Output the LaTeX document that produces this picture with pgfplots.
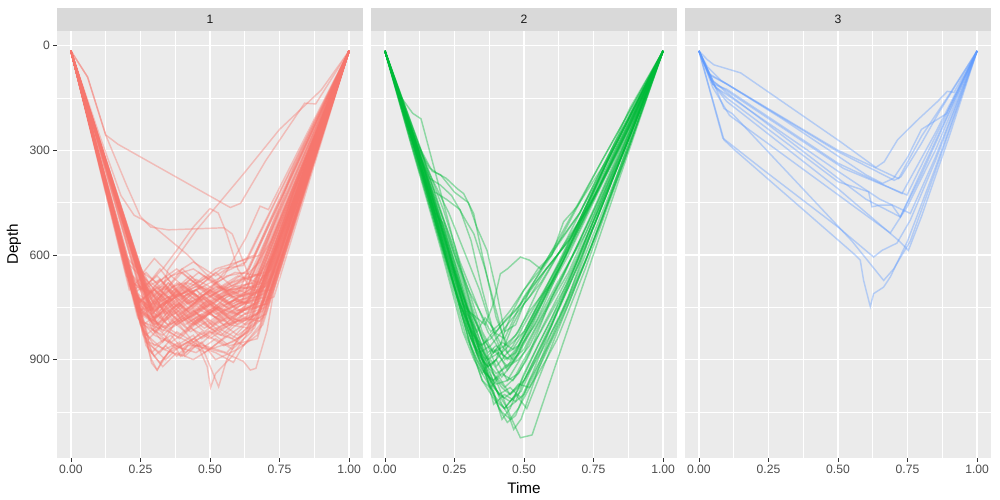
\documentclass[border=0pt]{standalone}
\usepackage{fontspec}
\setmainfont{Liberation Sans}
\usepackage{pgfplots}
\pgfplotsset{compat=1.18}
\definecolor{gg92}{HTML}{EBEBEB}
\definecolor{gg85}{HTML}{D9D9D9}
\definecolor{gg30}{HTML}{4D4D4D}
\definecolor{gg20}{HTML}{333333}
\definecolor{gg10}{HTML}{1A1A1A}
\definecolor{cR}{HTML}{F8766D}
\definecolor{cG}{HTML}{00BA38}
\definecolor{cB}{HTML}{619CFF}
\pgfplotsset{
 panel/.style={
  width=306bp, height=427bp, scale only axis,
  anchor=south west,
  xmin=-0.05, xmax=1.05, ymin=-42, ymax=1182, y dir=reverse,
  axis background/.style={fill=gg92},
  separate axis lines, axis line style={draw=none},
  xtick={0,0.25,0.5,0.75,1}, xticklabels={0.00,0.25,0.50,0.75,1.00},
  minor xtick={0.125,0.375,0.625,0.875},
  ytick={0,300,600,900}, minor ytick={150,450,750,1050},
  grid=both,
  major grid style={white, line width=1.49bp},
  minor grid style={white, line width=0.74bp},
  tick align=outside, major tick length=3.8bp, minor tick length=0pt,
  tick style={gg20, line width=0.74bp},
  xtick pos=left, ytick pos=left,
  tick label style={font=\fontsize{12.2}{14}\selectfont, text=gg30, inner sep=0pt},
  xticklabel style={yshift=-3bp},
  yticklabel style={xshift=-3bp},
 },
 rl/.style={cR, draw opacity=0.4, line width=1.45bp, no markers},
 gl/.style={cG, draw opacity=0.4, line width=1.45bp, no markers},
 bl/.style={cB, draw opacity=0.4, line width=1.45bp, no markers},
}
\newcommand\R[1]{\addplot[rl] coordinates {(0,15)#1(1,15)};}
\newcommand\G[1]{\addplot[gl] coordinates {(0,15)#1(1,15)};}
\newcommand\B[1]{\addplot[bl] coordinates {(0,15)#1(1,15)};}
\begin{document}
\begin{tikzpicture}
\path[use as bounding box] (0,0) rectangle (1000bp,500bp);
\fill[white] (0,0) rectangle (1000bp,500bp);
% ---------------- panel 1 ----------------
\begin{axis}[panel, at={(57bp,42bp)}, yticklabels={0,300,600,900}]
\R{(0.22,700)(0.28,760)(0.35,720)(0.42,780)(0.5,740)(0.58,790)(0.65,720)}
\R{(0.24,650)(0.29,700)(0.34,660)(0.4,720)(0.48,690)(0.56,740)(0.66,700)}
\R{(0.28,780)(0.31,820)(0.36,760)(0.44,800)(0.52,750)(0.6,800)(0.68,760)}
\R{(0.24,740)(0.31,690)(0.38,750)(0.45,700)(0.53,770)(0.6,720)(0.7,690)}
\R{(0.24,680)(0.28,740)(0.34,790)(0.41,730)(0.49,800)(0.57,760)(0.63,780)}
\R{(0.27,850)(0.32,880)(0.38,820)(0.46,860)(0.53,810)(0.6,840)(0.66,800)}
\R{(0.28,720)(0.32,760)(0.37,700)(0.43,660)(0.5,720)(0.58,680)(0.69,650)}
\R{(0.26,800)(0.33,830)(0.4,780)(0.47,840)(0.55,800)(0.62,760)(0.7,740)}
\R{(0.24,620)(0.28,680)(0.32,640)(0.38,700)(0.46,650)(0.54,700)(0.64,640)}
\R{(0.28,870)(0.32,910)(0.37,860)(0.45,880)(0.52,840)(0.58,870)(0.65,820)}
\R{(0.27,690)(0.31,730)(0.36,800)(0.44,750)(0.51,700)(0.59,750)(0.67,730)}
\R{(0.25,760)(0.3,700)(0.37,760)(0.44,720)(0.52,780)(0.6,740)(0.71,720)}
\R{(0.26,660)(0.3,720)(0.35,680)(0.42,740)(0.49,710)(0.55,650)(0.63,620)}
\R{(0.24,750)(0.32,800)(0.39,840)(0.46,790)(0.54,830)(0.61,780)(0.68,790)}
\R{(0.3,790)(0.34,740)(0.38,700)(0.45,760)(0.53,720)(0.59,690)(0.66,680)}
\R{(0.21,700)(0.27,650)(0.33,700)(0.41,680)(0.48,740)(0.56,700)(0.65,690)}
\R{(0.29,880)(0.34,840)(0.4,870)(0.47,820)(0.55,860)(0.62,830)(0.69,780)}
\R{(0.29,730)(0.33,780)(0.38,740)(0.45,790)(0.51,760)(0.58,720)(0.72,700)}
\R{(0.22,710)(0.29,680)(0.36,730)(0.43,690)(0.5,660)(0.57,710)(0.64,680)}
\R{(0.3,820)(0.35,780)(0.41,820)(0.48,770)(0.55,730)(0.63,770)(0.7,750)}
\R{(0.2,640)(0.26,700)(0.32,750)(0.39,710)(0.47,760)(0.54,720)(0.62,700)}
\R{(0.28,760)(0.32,810)(0.38,790)(0.44,850)(0.5,820)(0.57,860)(0.67,840)}
\R{(0.25,770)(0.32,720)(0.39,680)(0.46,720)(0.53,690)(0.61,720)(0.69,700)}
\R{(0.27,700)(0.31,740)(0.35,770)(0.42,710)(0.5,770)(0.58,730)(0.66,740)}
\R{(0.21,690)(0.28,760)(0.35,730)(0.4,790)(0.47,760)(0.55,790)(0.62,760)}
\R{(0.29,810)(0.33,850)(0.37,800)(0.44,760)(0.51,800)(0.59,760)(0.71,740)}
\R{(0.22,680)(0.3,710)(0.36,660)(0.44,640)(0.52,680)(0.59,650)(0.7,660)}
\R{(0.28,730)(0.32,770)(0.37,720)(0.43,770)(0.49,730)(0.56,770)(0.64,730)}
\R{(0.28,840)(0.33,800)(0.39,830)(0.46,780)(0.52,820)(0.6,790)(0.67,770)}
\R{(0.25,670)(0.29,720)(0.34,690)(0.41,760)(0.48,720)(0.55,760)(0.61,740)}
\R{(0.25,740)(0.29,790)(0.36,740)(0.43,800)(0.51,750)(0.57,800)(0.65,770)}
\R{(0.28,710)(0.32,670)(0.37,720)(0.45,670)(0.52,700)(0.6,660)(0.68,680)}
\R{(0.26,770)(0.34,810)(0.41,770)(0.48,810)(0.56,770)(0.63,800)(0.7,770)}
\R{(0.21,650)(0.26,690)(0.32,730)(0.39,690)(0.45,730)(0.52,690)(0.6,710)}
\R{(0.31,800)(0.35,760)(0.39,790)(0.47,750)(0.54,790)(0.62,750)(0.73,720)}
\R{(0.22,700)(0.29,740)(0.35,700)(0.42,750)(0.5,790)(0.57,750)(0.66,720)}
\R{(0.29,770)(0.33,740)(0.37,780)(0.44,740)(0.5,700)(0.58,740)(0.67,710)}
\R{(0.25,750)(0.3,800)(0.36,850)(0.43,810)(0.5,840)(0.57,800)(0.64,810)}
\R{(0.26,660)(0.3,700)(0.34,740)(0.42,700)(0.49,750)(0.57,700)(0.69,690)}
\R{(0.23,720)(0.29,770)(0.36,720)(0.42,680)(0.49,700)(0.56,660)(0.63,650)}
\R{(0.27,860)(0.31,900)(0.33,920)(0.38,880)(0.44,900)(0.5,870)(0.58,850)(0.66,810)}
\R{(0.25,800)(0.3,860)(0.36,830)(0.41,880)(0.47,850)(0.52,900)(0.6,870)(0.67,830)}
\R{(0.26,820)(0.33,870)(0.4,890)(0.45,850)(0.49,920)(0.502,980)(0.52,940)(0.58,890)(0.63,830)(0.7,720)}
\R{(0.24,780)(0.3,830)(0.38,860)(0.44,830)(0.48,880)(0.531,978)(0.56,900)(0.6,840)(0.68,760)}
\R{(0.25,790)(0.35,820)(0.45,860)(0.55,880)(0.62,905)(0.645,930)(0.665,925)(0.705,817)(0.73,700)}
\R{(0.27,840)(0.29,910)(0.31,930)(0.35,880)(0.4,860)(0.46,830)(0.55,800)(0.64,780)}
\R{(0.26,830)(0.3,870)(0.34,900)(0.38,870)(0.394,890)(0.42,860)(0.48,860)(0.56,880)(0.63,820)}
\R{(0.28,850)(0.34,870)(0.39,850)(0.41,890)(0.45,860)(0.52,880)(0.584,908)(0.62,860)(0.68,800)}
\R{(0.2,620)(0.25,660)(0.3,610)(0.36,660)(0.44,620)(0.52,660)(0.6,620)(0.68,600)}
\R{(0.19,600)(0.24,640)(0.31,680)(0.38,640)(0.46,690)(0.54,640)(0.62,630)}
\R{(0.25,760)(0.35,720)(0.45,700)(0.55,660)(0.63,550)(0.68,460)(0.71,470)(0.85,250)}
\R{(0.27,720)(0.31,780)(0.35,740)(0.4,700)(0.46,750)(0.52,710)(0.6,680)(0.68,620)(0.78,400)}
\R{(0.25,760)(0.31,720)(0.37,770)(0.43,730)(0.5,760)(0.56,720)(0.63,700)(0.7,560)(0.8,350)}
\R{(0.26,680)(0.3,720)(0.34,770)(0.39,740)(0.46,790)(0.53,750)(0.59,770)(0.66,740)}
\R{(0.24,750)(0.3,800)(0.36,770)(0.42,810)(0.48,780)(0.54,740)(0.6,770)(0.68,730)}
\R{(0.3,780)(0.34,740)(0.38,700)(0.44,740)(0.5,700)(0.57,740)(0.64,700)(0.72,640)}
\R{(0.23,710)(0.29,760)(0.35,800)(0.41,760)(0.47,720)(0.53,760)(0.6,720)(0.66,690)}
\R{(0.25,650)(0.29,690)(0.33,720)(0.38,680)(0.45,720)(0.52,680)(0.58,720)(0.65,700)(0.75,500)}
\R{(0.27,830)(0.33,790)(0.39,760)(0.45,800)(0.51,760)(0.57,800)(0.64,760)(0.7,740)}
\R{(0.22,700)(0.27,740)(0.32,700)(0.38,740)(0.44,770)(0.5,730)(0.56,770)(0.62,740)(0.69,720)}
\R{(0.29,770)(0.33,820)(0.37,780)(0.43,820)(0.49,790)(0.55,830)(0.61,790)(0.68,780)}
\R{(0.24,740)(0.3,700)(0.36,660)(0.42,700)(0.48,660)(0.55,700)(0.62,670)(0.7,650)(0.8,420)}
\R{(0.26,690)(0.3,740)(0.34,700)(0.4,650)(0.46,690)(0.52,650)(0.58,690)(0.66,660)}
\R{(0.26,800)(0.31,770)(0.36,810)(0.42,780)(0.48,820)(0.53,790)(0.6,830)(0.67,790)}
\R{(0.23,730)(0.3,780)(0.37,750)(0.44,710)(0.5,750)(0.56,710)(0.63,740)(0.71,700)}
\R{(0.2,660)(0.25,700)(0.31,660)(0.37,710)(0.43,670)(0.5,710)(0.57,680)(0.64,660)(0.72,560)}
\R{(0.28,750)(0.32,710)(0.36,750)(0.41,800)(0.47,770)(0.54,810)(0.6,780)(0.65,760)}
\R{(0.22,710)(0.3,760)(0.38,720)(0.45,690)(0.52,730)(0.6,700)(0.67,720)(0.74,640)(0.82,400)}
\R{(0.26,790)(0.32,830)(0.38,870)(0.44,840)(0.5,870)(0.56,830)(0.62,860)(0.69,800)}
\R{(0.29,760)(0.32,720)(0.36,680)(0.4,640)(0.46,680)(0.52,640)(0.6,620)(0.66,600)(0.76,420)}
\R{(0.26,820)(0.29,900)(0.31,930)(0.33,900)(0.36,870)(0.42,850)(0.48,880)(0.55,840)(0.62,800)(0.68,760)}
\R{(0.24,770)(0.28,860)(0.3,890)(0.34,860)(0.38,890)(0.42,860)(0.5,820)(0.58,840)(0.65,780)}
\R{(0.23,740)(0.3,700)(0.36,740)(0.42,700)(0.48,730)(0.55,690)(0.62,720)(0.7,690)}
\R{(0.26,700)(0.3,760)(0.34,730)(0.4,770)(0.46,730)(0.52,770)(0.6,740)(0.68,700)}
\R{(0.25,780)(0.3,740)(0.36,700)(0.42,740)(0.49,710)(0.56,750)(0.63,720)(0.7,700)}
\R{(0.27,690)(0.31,720)(0.35,680)(0.4,720)(0.47,690)(0.54,730)(0.61,700)(0.69,680)}
\R{(0.24,760)(0.3,780)(0.37,740)(0.43,780)(0.5,740)(0.57,780)(0.64,750)(0.71,730)}
\R{(0.2,650)(0.26,700)(0.32,670)(0.38,720)(0.45,690)(0.52,720)(0.59,690)(0.66,700)}
\R{(0.3,800)(0.34,760)(0.38,800)(0.44,770)(0.5,810)(0.56,780)(0.62,790)(0.69,760)}
\R{(0.23,720)(0.29,750)(0.35,720)(0.41,750)(0.47,780)(0.53,750)(0.59,730)(0.67,720)}
\R{(0.21,670)(0.27,710)(0.33,690)(0.39,730)(0.45,700)(0.51,740)(0.58,700)(0.65,680)(0.73,600)}
\R{(0.25,770)(0.31,800)(0.37,760)(0.43,790)(0.49,760)(0.55,800)(0.61,760)(0.68,750)}
\R{(0.27,700)(0.31,730)(0.34,760)(0.4,720)(0.46,760)(0.53,720)(0.6,760)(0.67,740)}
\R{(0.24,730)(0.29,760)(0.35,730)(0.41,690)(0.47,730)(0.54,700)(0.61,740)(0.7,710)}
\R{(0.06,90)(0.125,256)(0.17,283)(0.573,464)(0.61,452)(0.7,330)(0.84,165)(0.88,167)}
\R{(0.06,90)(0.125,256)(0.2,400)(0.25,490)(0.287,520)(0.35,528)(0.45,525)(0.55,522)(0.58,540)(0.62,620)(0.66,700)(0.7,650)(0.8,420)}
\R{(0.1,250)(0.18,430)(0.227,486)(0.26,500)(0.3,520)(0.36,560)(0.42,600)(0.48,650)(0.55,700)(0.62,740)(0.7,680)(0.8,420)}
\R{(0.22,700)(0.28,680)(0.33,640)(0.38,587)(0.44,520)(0.5,467)(0.53,480)(0.56,539)(0.6,640)(0.65,700)(0.72,640)}
\R{(0.24,760)(0.3,790)(0.348,644)(0.45,530)(0.622,366)(0.75,240)(0.9,127)}
\end{axis}
% ---------------- panel 2 ----------------
\begin{axis}[panel, at={(371bp,42bp)}, yticklabels={}, ytick style={draw=none}]
\G{(0.11,300)(0.23,600)(0.33,880)(0.39,1000)(0.43,1040)(0.46,1010)(0.5,960)(0.6,800)(0.7,620)(0.85,320)}
\G{(0.1,290)(0.2,560)(0.3,820)(0.35,930)(0.39,960)(0.43,920)(0.47,900)(0.55,780)(0.65,600)(0.8,330)}
\G{(0.12,300)(0.25,620)(0.35,900)(0.41,1040)(0.44,1080)(0.47,1060)(0.52,960)(0.6,840)(0.72,620)(0.86,330)}
\G{(0.13,320)(0.26,640)(0.37,920)(0.42,1028)(0.445,1060)(0.463,1100)(0.49,1070)(0.55,930)(0.7,640)(0.85,340)}
\G{(0.13,300)(0.27,640)(0.39,940)(0.45,1060)(0.487,1124)(0.529,1116)(0.619,903)}
\G{(0.11,280)(0.23,580)(0.32,820)(0.37,900)(0.4,870)(0.44,930)(0.48,880)(0.55,760)(0.66,600)(0.82,330)}
\G{(0.09,260)(0.18,500)(0.27,740)(0.32,830)(0.35,860)(0.39,820)(0.43,840)(0.5,720)(0.6,600)(0.78,330)}
\G{(0.11,280)(0.16,350)(0.188,366)(0.22,380)(0.26,410)(0.283,424)(0.319,481)(0.35,600)(0.4,780)(0.44,860)(0.48,820)(0.55,700)(0.65,560)(0.8,320)}
\G{(0.11,270)(0.17,360)(0.2,370)(0.25,420)(0.3,450)(0.33,520)(0.367,587)(0.4,700)(0.43,820)(0.47,800)(0.52,700)(0.62,560)(0.78,330)}
\G{(0.11,290)(0.22,590)(0.3,760)(0.36,800)(0.39,740)(0.415,654)(0.44,640)(0.487,606)(0.52,615)(0.56,640)(0.6,590)(0.7,480)(0.8,320)}
\G{(0.1,280)(0.21,580)(0.3,840)(0.35,960)(0.39,990)(0.421,1071)(0.45,1040)(0.5,940)(0.6,780)(0.72,560)(0.86,300)}
\G{(0.12,310)(0.22,560)(0.32,830)(0.38,960)(0.41,1000)(0.45,980)(0.49,1010)(0.53,940)(0.62,760)(0.75,500)(0.88,260)}
\G{(0.11,300)(0.24,640)(0.33,880)(0.37,920)(0.4,900)(0.44,960)(0.48,940)(0.52,880)(0.6,720)(0.7,560)(0.85,300)}
\G{(0.14,330)(0.25,600)(0.32,780)(0.37,860)(0.4,920)(0.43,890)(0.46,860)(0.5,800)(0.58,690)(0.7,520)(0.84,300)}
\G{(0.11,300)(0.22,620)(0.31,860)(0.35,940)(0.38,980)(0.41,950)(0.45,1000)(0.48,980)(0.55,860)(0.65,700)(0.8,400)}
\G{(0.13,330)(0.24,560)(0.3,700)(0.34,760)(0.38,820)(0.41,800)(0.45,760)(0.5,700)(0.58,620)(0.7,480)(0.83,290)}
\G{(0.1,300)(0.2,580)(0.28,820)(0.32,900)(0.35,940)(0.38,900)(0.42,950)(0.46,910)(0.52,820)(0.62,640)(0.78,360)}
\G{(0.12,300)(0.23,590)(0.33,880)(0.4,1020)(0.43,1040)(0.47,1000)(0.51,1040)(0.54,980)(0.6,860)(0.72,620)(0.87,300)}
\G{(0.11,290)(0.22,600)(0.29,760)(0.33,820)(0.36,780)(0.4,820)(0.44,780)(0.49,740)(0.56,660)(0.64,580)(0.75,440)(0.88,230)}
\G{(0.13,320)(0.26,660)(0.35,900)(0.391,1028)(0.43,1000)(0.47,1020)(0.5,960)(0.56,860)(0.66,690)(0.79,440)(0.9,220)}
\G{(0.11,300)(0.21,560)(0.28,740)(0.32,780)(0.35,840)(0.39,880)(0.42,850)(0.46,870)(0.5,820)(0.6,660)(0.73,450)(0.86,250)}
\G{(0.09,270)(0.19,540)(0.26,720)(0.3,800)(0.34,860)(0.37,900)(0.41,880)(0.45,900)(0.49,850)(0.56,740)(0.68,560)(0.82,320)}
\G{(0.12,320)(0.23,600)(0.32,800)(0.36,880)(0.39,940)(0.43,980)(0.47,950)(0.51,900)(0.57,800)(0.66,660)(0.78,450)(0.9,220)}
\G{(0.11,300)(0.18,480)(0.21,510)(0.25,600)(0.3,700)(0.35,820)(0.39,880)(0.43,860)(0.47,830)(0.52,760)(0.6,680)(0.7,520)(0.84,290)}
\G{(0.1,280)(0.22,610)(0.3,820)(0.34,900)(0.38,960)(0.41,1000)(0.45,1020)(0.49,990)(0.53,920)(0.6,800)(0.7,620)(0.84,340)}
\G{(0.06,150)(0.1,194)(0.13,210)(0.22,480)(0.32,780)(0.37,880)(0.4,860)(0.44,900)(0.48,860)(0.55,760)(0.65,600)(0.8,330)}
\G{(0.13,340)(0.27,700)(0.35,900)(0.39,960)(0.42,940)(0.46,960)(0.5,900)(0.56,820)(0.65,690)(0.76,500)(0.88,260)}
\G{(0.11,290)(0.22,590)(0.31,840)(0.35,900)(0.38,930)(0.42,980)(0.45,1000)(0.48,970)(0.52,980)(0.58,900)(0.62,840)(0.72,640)(0.86,330)}
\G{(0.11,300)(0.22,600)(0.32,860)(0.37,920)(0.4,900)(0.43,820)(0.46,760)(0.5,700)(0.55,640)(0.6,600)(0.642,505)(0.69,462)(0.798,328)(0.88,180)}
\G{(0.12,310)(0.25,640)(0.34,860)(0.38,920)(0.42,880)(0.46,800)(0.5,740)(0.56,680)(0.62,600)(0.7,500)(0.8,330)}
\G{(0.14,340)(0.28,700)(0.37,940)(0.41,1000)(0.44,1040)(0.47,1020)(0.5,1000)(0.55,920)(0.6,820)(0.66,720)(0.74,540)(0.87,280)}
\G{(0.11,300)(0.22,560)(0.3,800)(0.33,860)(0.36,900)(0.4,940)(0.44,920)(0.48,900)(0.52,860)(0.58,760)(0.66,650)(0.76,470)(0.88,250)}
\G{(0.13,300)(0.21,470)(0.27,620)(0.33,740)(0.37,820)(0.42,880)(0.46,850)(0.5,820)(0.56,730)(0.64,620)(0.74,450)(0.87,240)}
\G{(0.1,290)(0.2,570)(0.29,830)(0.33,900)(0.36,940)(0.4,970)(0.44,960)(0.47,920)(0.5,880)(0.55,800)(0.63,680)(0.75,470)(0.87,250)}
\G{(0.12,300)(0.23,600)(0.32,850)(0.36,930)(0.39,980)(0.43,1010)(0.46,990)(0.5,960)(0.56,880)(0.64,760)(0.74,580)(0.86,330)}
\G{(0.11,300)(0.21,580)(0.28,780)(0.31,840)(0.34,880)(0.38,860)(0.42,820)(0.46,780)(0.52,720)(0.58,640)(0.66,560)(0.76,420)(0.88,230)}
\G{(0.15,350)(0.23,480)(0.29,600)(0.34,700)(0.38,800)(0.42,860)(0.46,900)(0.5,870)(0.56,780)(0.64,660)(0.76,460)(0.88,240)}
\G{(0.11,290)(0.22,600)(0.31,870)(0.35,960)(0.39,1010)(0.42,1050)(0.45,1070)(0.48,1040)(0.52,980)(0.58,880)(0.66,740)(0.78,500)(0.9,220)}
\G{(0.13,330)(0.25,650)(0.32,840)(0.36,900)(0.39,870)(0.44,920)(0.48,870)(0.54,800)(0.62,680)(0.72,540)(0.85,310)}
\G{(0.1,270)(0.19,520)(0.26,720)(0.31,820)(0.34,860)(0.38,840)(0.42,800)(0.47,760)(0.52,700)(0.6,620)(0.68,540)(0.8,360)(0.9,200)}
\G{(0.11,290)(0.16,380)(0.2,400)(0.24,430)(0.29,500)(0.32,540)(0.36,640)(0.4,760)(0.44,880)(0.48,860)(0.54,760)(0.64,600)(0.8,330)}
\G{(0.12,300)(0.18,420)(0.22,440)(0.27,470)(0.31,560)(0.35,700)(0.39,820)(0.43,900)(0.47,880)(0.52,800)(0.62,640)(0.78,380)}
\end{axis}
% ---------------- panel 3 ----------------
\begin{axis}[panel, at={(685bp,42bp)}, yticklabels={}, ytick style={draw=none}]
\B{(0.03,40)(0.054,55)(0.15,78)(0.508,275)(0.636,349)(0.666,333)(0.714,270)(0.786,213)(0.858,160)(0.893,131)(0.917,134)}
\B{(0.04,85)(0.1,110)(0.5,304)(0.702,386)(0.726,376)(0.8,280)(0.86,195)}
\B{(0.035,80)(0.09,105)(0.5,300)(0.718,381)(0.8,260)(0.9,140)}
\B{(0.05,110)(0.1,125)(0.5,337)(0.73,424)(0.85,250)}
\B{(0.045,100)(0.12,140)(0.52,352)(0.748,428)}
\B{(0.05,110)(0.1,150)(0.5,390)(0.61,419)(0.622,462)(0.652,457)(0.694,457)(0.724,491)(0.8,370)}
\B{(0.05,120)(0.11,200)(0.688,537)(0.75,460)(0.85,300)}
\B{(0.086,265)(0.126,290)(0.233,357)(0.5,520)(0.628,606)(0.658,587)(0.712,566)(0.76,500)(0.85,330)}
\B{(0.09,270)(0.13,300)(0.556,596)(0.58,615)(0.592,673)(0.616,748)(0.628,711)(0.664,692)(0.688,663)(0.75,560)(0.85,350)}
\B{(0.05,100)(0.09,180)(0.12,195)(0.55,560)(0.664,673)(0.7,640)(0.76,560)(0.85,360)}
\B{(0.05,110)(0.1,160)(0.5,410)(0.72,560)(0.753,587)(0.8,490)(0.9,260)}
\B{(0.05,100)(0.1,135)(0.5,380)(0.6,440)(0.724,491)(0.8,360)}
\B{(0.06,120)(0.1,140)(0.5,360)(0.65,440)(0.76,481)(0.85,320)}
\B{(0.03,60)(0.08,100)(0.3,210)(0.6,370)(0.66,395)(0.7,380)(0.75,320)(0.8,240)(0.89,195)}
\end{axis}
% ---------------- strips and titles ----------------
\fill[gg85] (57bp,469bp) rectangle (363bp,492bp);
\fill[gg85] (371bp,469bp) rectangle (677bp,492bp);
\fill[gg85] (685bp,469bp) rectangle (991bp,492bp);
\node[font=\fontsize{12.2}{14}\selectfont, text=gg10] at (210bp,480.5bp) {1};
\node[font=\fontsize{12.2}{14}\selectfont, text=gg10] at (524bp,480.5bp) {2};
\node[font=\fontsize{12.2}{14}\selectfont, text=gg10] at (838bp,480.5bp) {3};
\node[font=\fontsize{15.3}{18}\selectfont] at (524bp,12bp) {Time};
\node[font=\fontsize{15.3}{18}\selectfont, rotate=90] at (14bp,255.5bp) {Depth};
\end{tikzpicture}
\end{document}
